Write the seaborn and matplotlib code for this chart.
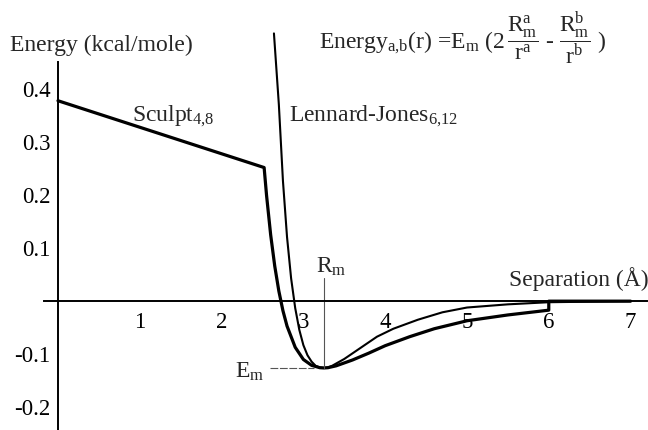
import matplotlib
matplotlib.use("Agg")
import matplotlib.pyplot as plt
import seaborn as sns
import pandas as pd

# Separation (Å) and energy (kcal/mole) samples for the two potentials
lj_r = [2.64, 2.70, 2.75, 2.80, 2.85, 2.90, 2.95, 3.00, 3.05, 3.10, 3.15, 3.20,
        3.25, 3.30, 3.35, 3.50, 3.70, 3.90, 4.10, 4.40, 4.70, 5.00, 5.50, 6.00,
        6.50, 7.00]
lj_e = [0.505, 0.371, 0.227, 0.121, 0.043, -0.013, -0.054, -0.083, -0.102,
        -0.114, -0.122, -0.125, -0.126, -0.125, -0.122, -0.109, -0.088, -0.067,
        -0.052, -0.035, -0.021, -0.012, -0.006, -0.002, -0.001, 0.000]

sculpt_r = [0.00, 2.52, 2.55, 2.60, 2.65, 2.70, 2.75, 2.80, 2.90, 3.00, 3.10,
            3.20, 3.25, 3.30, 3.40, 3.60, 3.80, 4.00, 4.30, 4.60, 5.00, 5.50,
            6.00, 6.00, 7.00]
sculpt_e = [0.378, 0.252, 0.199, 0.125, 0.066, 0.019, -0.018, -0.047, -0.087,
            -0.110, -0.121, -0.1255, -0.126, -0.1255, -0.122, -0.111, -0.098,
            -0.084, -0.067, -0.052, -0.037, -0.026, -0.017, 0.000, 0.000]

# Position and depth of the well minimum
r_min = 3.25
e_min = -0.126

x_ticks = [1, 2, 3, 4, 5, 6, 7]
y_ticks = [-0.2, -0.1, 0.1, 0.2, 0.3, 0.4]
y_tick_labels = ["-0.2", "-0.1", "0.1", "0.2", "0.3", "0.4"]

sns.set_theme(style="white")
plt.rcParams["font.family"] = ["Liberation Serif", "DejaVu Serif"]
plt.rcParams["mathtext.fontset"] = "custom"
plt.rcParams["mathtext.rm"] = "Liberation Serif"
plt.rcParams["mathtext.it"] = "Liberation Serif:italic"

lj_df = pd.DataFrame({"r": lj_r, "energy": lj_e})
sc_df = pd.DataFrame({"r": sculpt_r, "energy": sculpt_e})

fig = plt.figure(figsize=(6.48, 4.30), dpi=100)
ax = fig.add_axes([0, 0, 1, 1])

sns.lineplot(data=lj_df, x="r", y="energy", ax=ax, sort=False, estimator=None,
             color="black", linewidth=1.5)
sns.lineplot(data=sc_df, x="r", y="energy", ax=ax, sort=False, estimator=None,
             color="black", linewidth=2.3)

# Guide lines marking R_m and E_m
ax.plot([r_min, r_min], [0.043, e_min], color="#555555", linewidth=0.8)
ax.plot([2.59, r_min - 0.12], [e_min, e_min], color="#555555", linewidth=0.8,
        linestyle=(0, (7, 1.5)))

ax.set_xlim(-0.709, 7.213)
ax.set_ylim(-0.243, 0.568)

for side in ("top", "right"):
    ax.spines[side].set_visible(False)
ax.spines["left"].set_position(("data", 0))
ax.spines["bottom"].set_position(("data", 0))
ax.spines["left"].set_bounds(-0.243, 0.451)
ax.spines["bottom"].set_bounds(-0.17, 7.2)
for side in ("left", "bottom"):
    ax.spines[side].set_color("black")
    ax.spines[side].set_linewidth(1.4)

ax.set_xticks(x_ticks)
ax.set_xticklabels([str(t) for t in x_ticks])
ax.set_yticks(y_ticks)
ax.set_yticklabels(y_tick_labels)
ax.tick_params(axis="both", direction="inout", length=7, width=1.1,
               color="black", labelsize=16.5, labelcolor="black")
ax.tick_params(axis="x", pad=4)
ax.tick_params(axis="y", pad=2)
ax.set_xlabel("")
ax.set_ylabel("")
ax.grid(False)

fs = 17
ax.text(-0.587, 0.483, "Energy (kcal/mole)", fontsize=fs, ha="left", va="center")
ax.text(0.905, 0.340, r"Sculpt$_{4{,}8}$", fontsize=fs, ha="left", va="baseline")
ax.text(2.82, 0.340, r"Lennard-Jones$_{6{,}12}$", fontsize=fs, ha="left",
        va="baseline")
ax.text(3.19, 0.474,
        r"Energy$_{\mathrm{a{,}b}}$(r) =E$_\mathrm{m}$ (2"
        r"$\,\dfrac{\mathrm{R}_\mathrm{m}^\mathrm{a}}{\mathrm{r}^\mathrm{a}}$"
        r" - $\dfrac{\mathrm{R}_\mathrm{m}^\mathrm{b}}{\mathrm{r}^\mathrm{b}}$ )",
        fontsize=fs, ha="left", va="baseline")
ax.text(3.155, 0.053, r"R$_\mathrm{m}$", fontsize=fs, ha="left", va="baseline")
ax.text(2.16, -0.145, r"E$_\mathrm{m}$", fontsize=fs, ha="left", va="baseline")
ax.text(5.51, 0.028, "Separation (Å)", fontsize=fs, ha="left", va="baseline")

fig.savefig("out.png", dpi=100, facecolor="white")
